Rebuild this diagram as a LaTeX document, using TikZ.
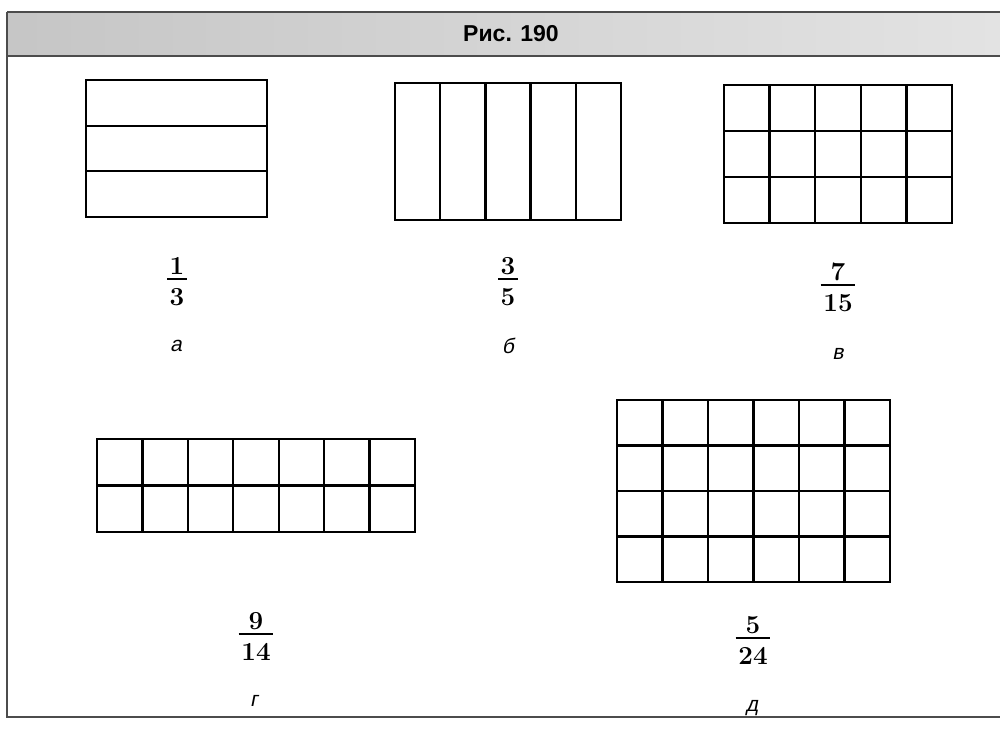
\documentclass[tikz,border=0pt]{standalone}
\usepackage{amsmath}
\usepackage{fontspec}
\newfontfamily\slantfont[FakeSlant=0.2]{Liberation Sans}
\newfontfamily\headfont{Liberation Sans Bold}
\usetikzlibrary{
  calc,                     % 坐标计算
  positioning               % 节点相对定位
}

\begin{document}
\begin{tikzpicture}[x=1pt, y=-1pt, line width=2.3pt,
    fracdigit/.style={anchor=base, inner sep=0pt, font=\fontsize{26}{30}\selectfont\bfseries},
    fracbar/.style={line width=1.5pt},
    letterlabel/.style={anchor=base, font=\slantfont\fontsize{21}{25}\selectfont},
    framecolor/.style={gray!60!black}]

  \useasboundingbox (0,0) rectangle (1000,730);

  % =========== 标题栏 ===========
  \shade[left color=gray!45, right color=gray!22] (7,12) rectangle (1000,56);
  \draw[framecolor, line width=1.2pt] (7,12) -- (1000,12);
  \draw[framecolor, line width=2pt] (7,56) -- (1000,56);
  \node[font=\headfont\fontsize{23}{27}\selectfont] (title) at (511,34) {Рис. 190};
  % 外框 (左边与下边)
  \draw[framecolor, line width=1.5pt] (7,12) -- (7,717) -- (1000,717);

  % =========== 图 а：三横条 ===========
  \begin{scope}[shift={(86,80)}]
    \draw (0,0) rectangle (181,137);
    \foreach \j in {1,2}
      \draw (0,{\j*137/3}) -- (181,{\j*137/3});
    \node[letterlabel] (let-a) at (90,271) {а};
  \end{scope}

  % =========== 图 б：五竖条 ===========
  \begin{scope}[shift={(395,83)}]
    \draw (0,0) rectangle (226,137);
    \foreach \i in {1,...,4}
      \draw ({\i*226/5},0) -- ({\i*226/5},137);
    \node[letterlabel] (let-b) at (113,270) {б};
  \end{scope}

  % =========== 图 в：5 x 3 ===========
  \begin{scope}[shift={(724,85)}]
    \draw (0,0) rectangle (228,138);
    \foreach \i in {1,...,4}
      \draw ({\i*228/5},0) -- ({\i*228/5},138);
    \foreach \j in {1,2}
      \draw (0,{\j*46}) -- (228,{\j*46});
    \node[letterlabel] (let-v) at (114,274) {в};
  \end{scope}

  % =========== 图 г：7 x 2 ===========
  \begin{scope}[shift={(97,439)}]
    \draw (0,0) rectangle (318,93);
    \foreach \i in {1,...,6}
      \draw ({\i*318/7},0) -- ({\i*318/7},93);
    \draw (0,46.5) -- (318,46.5);
    \node[letterlabel] (let-g) at (157,267) {г};
  \end{scope}

  % =========== 图 д：6 x 4 ===========
  \begin{scope}[shift={(617,400)}]
    \draw (0,0) rectangle (273,182);
    \foreach \i in {1,...,5}
      \draw ({\i*273/6},0) -- ({\i*273/6},182);
    \foreach \j in {1,2,3}
      \draw (0,{\j*45.5}) -- (273,{\j*45.5});
    \node[letterlabel] (let-d) at (135,311) {д};
  \end{scope}

  % =========== 分数 (分子、分数线、分母) ===========
  \foreach \name/\x/\yb/\n/\d in {a/177/279/1/3, b/508/279/3/5, v/838/285/7/15,
                                  g/256/634/9/14, d/753/638/5/24} {
    \coordinate (bar-\name) at (\x,\yb);
    \node[fracdigit] (num-\name) at (\x,{\yb-5}) {\n};
    \node[fracdigit] (den-\name) at (\x,{\yb+26}) {\d};
    \draw[fracbar] ($(bar-\name -| den-\name.west)+(-1.5,0)$)
      -- ($(bar-\name -| den-\name.east)+(1.5,0)$);
  }

\end{tikzpicture}
\end{document}
